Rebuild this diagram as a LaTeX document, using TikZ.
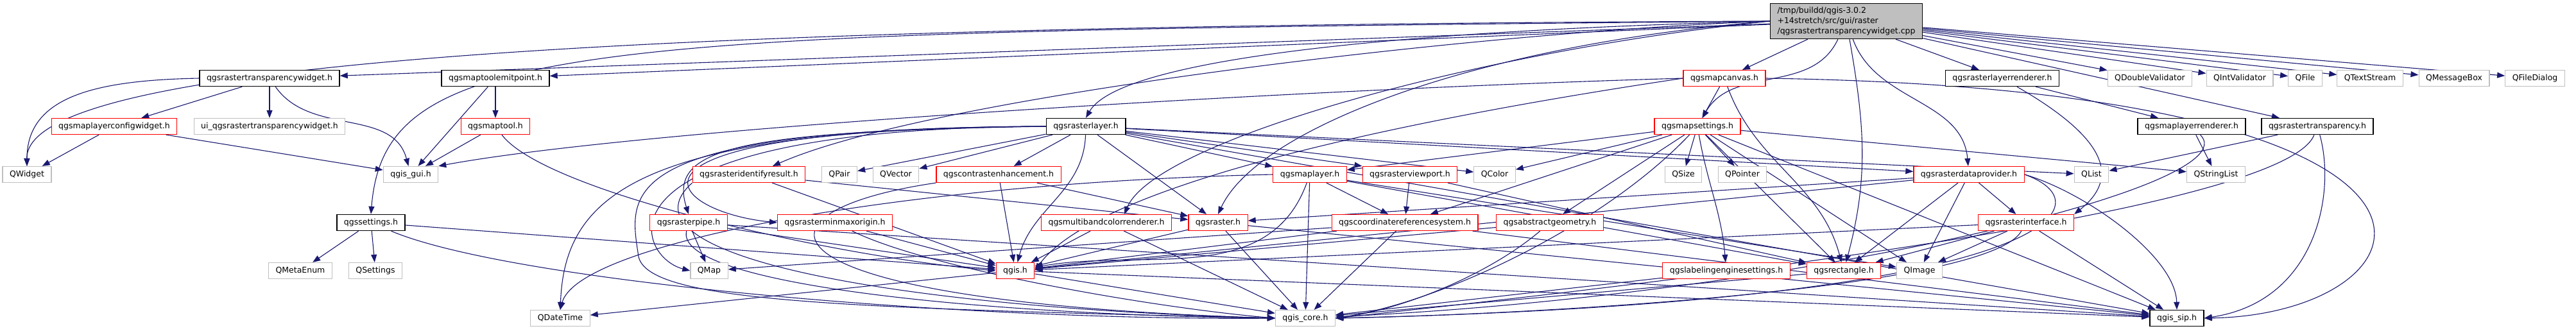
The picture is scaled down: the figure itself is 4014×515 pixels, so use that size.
\documentclass[tikz,border=0pt]{standalone}
\usepackage{fontspec}
\setmainfont{DejaVu Sans}
\usepackage{tikz}
\usetikzlibrary{arrows.meta,backgrounds}
\usepackage{xcolor}
\definecolor{depblue}{RGB}{25,25,112}
\definecolor{trunred}{RGB}{255,0,0}
\definecolor{extgray}{RGB}{191,191,191}

\tikzset{
  file/.style={draw,rectangle,fill=white,minimum height=25pt,inner xsep=11pt,inner ysep=2pt,line width=1.2pt},
  docfile/.style={file,draw=black,line width=1.5pt},
  redfile/.style={file,draw=trunred},
  extfile/.style={file,draw=extgray},
  mainfile/.style={file,draw=black,fill=extgray,line width=1.5pt,align=left,minimum height=55pt},
  dep/.style={->,draw=depblue,line width=1.1pt}
}

\begin{document}
\begin{tikzpicture}[x=1pt,y=-1pt,font=\fontsize{12.5}{16}\selectfont,>={Stealth[length=12pt,width=9pt,inset=0pt]}]
  \useasboundingbox (0,0) rectangle (4014,515);

  % the file itself
  \node[mainfile] (C) at (2877,33) {/tmp/buildd/qgis-3.0.2\\+14stretch/src/gui/raster\\/qgsrastertransparencywidget.cpp};

  % rank 2
  \node[docfile] (tw) at (420,122) {qgsrastertransparencywidget.h};
  \node[docfile] (mtep) at (772,122) {qgsmaptoolemitpoint.h};
  \node[redfile] (mcanvas) at (2687,122) {qgsmapcanvas.h};
  \node[docfile] (rlrend) at (3120,122) {qgsrasterlayerrenderer.h};
  \node[extfile] (qdv) at (3350,122) {QDoubleValidator};
  \node[extfile] (qiv) at (3490,122) {QIntValidator};
  \node[extfile] (qfile) at (3592,122) {QFile};
  \node[extfile] (qts) at (3693,122) {QTextStream};
  \node[extfile] (qmb) at (3824,122) {QMessageBox};
  \node[extfile] (qfd) at (3950,122) {QFileDialog};

  % rank 3
  \node[redfile] (mlcw) at (178,197) {qgsmaplayerconfigwidget.h};
  \node[extfile] (ui) at (420,197) {ui\_qgsrastertransparencywidget.h};
  \node[redfile] (mtool) at (772,197) {qgsmaptool.h};
  \node[docfile] (rlayer) at (1692,197) {qgsrasterlayer.h};
  \node[redfile] (msettings) at (2645,197) {qgsmapsettings.h};
  \node[docfile] (mlrend) at (3415,197) {qgsmaplayerrenderer.h};
  \node[docfile] (rtransp) at (3611,197) {qgsrastertransparency.h};

  % rank 4
  \node[extfile] (qwidget) at (42,272) {QWidget};
  \node[extfile] (guih) at (640,272) {qgis\_gui.h};
  \node[redfile] (rid) at (1167,272) {qgsrasteridentifyresult.h};
  \node[extfile] (qpair) at (1308,272) {QPair};
  \node[extfile] (qvector) at (1396,272) {QVector};
  \node[redfile] (contrast) at (1556,272) {qgscontrastenhancement.h};
  \node[redfile] (mlayer) at (2041,272) {qgsmaplayer.h};
  \node[redfile] (rviewport) at (2197,272) {qgsrasterviewport.h};
  \node[extfile] (qcolor) at (2329,272) {QColor};
  \node[extfile] (qsize) at (2623,272) {QSize};
  \node[extfile] (qpointer) at (2715,272) {QPointer};
  \node[redfile] (rdp) at (3068,272) {qgsrasterdataprovider.h};
  \node[extfile] (qlist) at (3259,272) {QList};
  \node[extfile] (qstringlist) at (3453,272) {QStringList};

  % rank 5
  \node[docfile] (settings) at (578,347) {qgssettings.h};
  \node[redfile] (rpipe) at (1073,347) {qgsrasterpipe.h};
  \node[redfile] (rminmax) at (1301,347) {qgsrasterminmaxorigin.h};
  \node[redfile] (multiband) at (1724,347) {qgsmultibandcolorrenderer.h};
  \node[redfile] (rasterh) at (1898,347) {qgsraster.h};
  \node[redfile] (crs) at (2189,347) {qgscoordinatereferencesystem.h};
  \node[redfile] (absgeom) at (2415,347) {qgsabstractgeometry.h};
  \node[redfile] (rinterface) at (3157,347) {qgsrasterinterface.h};

  % rank 6
  \node[extfile] (qmetaenum) at (468,422) {QMetaEnum};
  \node[extfile] (qsettings) at (585,422) {QSettings};
  \node[extfile] (qmap) at (1105,422) {QMap};
  \node[redfile] (qgish) at (1582,422) {qgis.h};
  \node[redfile] (labeling) at (2690,422) {qgslabelingenginesettings.h};
  \node[redfile] (rect) at (2873,422) {qgsrectangle.h};
  \node[extfile] (qimage) at (2991,422) {QImage};

  % rank 7
  \node[extfile] (qdatetime) at (873,496) {QDateTime};
  \node[extfile] (coreh) at (2034,496) {qgis\_core.h};
  \node[docfile] (siph) at (3392,496) {qgis\_sip.h};

  \begin{scope}[on background layer]
    % includes of the .cpp
    \draw[dep] (C) -- (tw);
    \draw[dep] (C) -- (mtep);
    \draw[dep] (C.west) .. controls (800,40) and (40,110) .. (qwidget.north);
    \draw[dep] (C.west) .. controls (900,50) and (600,60) .. (settings.north);
    \draw[dep] (C.west) .. controls (2100,50) and (1740,100) .. (rlayer.north);
    \draw[dep] (C.west) .. controls (2300,50) and (1450,150) .. ([xshift=37pt]rid.north);
    \draw[dep] (C.west) .. controls (2300,70) and (1960,200) .. (rasterh.north);
    \draw[dep] (C.west) .. controls (2300,80) and (1800,220) .. ([xshift=28pt]multiband.north);
    \draw[dep] (C) -- (mcanvas);
    \draw[dep] (C) to[out=-115,in=60] (msettings);
    \draw[dep] (C) -- (rlrend);
    \draw[dep] (C) -- (qdv);
    \draw[dep] (C) -- (qiv);
    \draw[dep] (C) -- (qfile);
    \draw[dep] (C) -- (qts);
    \draw[dep] (C) -- (qmb);
    \draw[dep] (C) -- (qfd);
    \draw[dep] (C) -- (rtransp);
    \draw[dep] (C) to[out=-70,in=95] (rdp);
    \draw[dep] (C) to[out=-80,in=75] (rect);

    % gui side
    \draw[dep] (tw.west) .. controls (150,125) and (42,150) .. (qwidget.north);
    \draw[dep] (tw) -- (mlcw);
    \draw[dep] (tw) -- (ui);
    \draw[dep] (tw) to[out=-55,in=105] (guih);
    \draw[dep] (mlcw) -- (qwidget);
    \draw[dep] (mlcw) -- (guih);
    \draw[dep] (mtep) -- (mtool);
    \draw[dep] (mtep) -- (guih);
    \draw[dep] (mtool) -- (guih);
    \draw[dep] (mtool) .. controls (850,300) and (1300,400) .. (qgish.west);
    \draw[dep] (mcanvas.west) .. controls (2000,140) and (1000,200) .. (guih.north east);
    \draw[dep] (mcanvas) -- (msettings);
    \draw[dep] (mcanvas.west) .. controls (2100,200) and (1700,300) .. (qgish.east);
    \draw[dep] (mcanvas.east) .. controls (3950,140) and (3800,490) .. (siph.east);
    \draw[dep] (mcanvas) to[out=-70,in=105] (rect);

    % qgsrasterlayer.h
    \draw[dep] (rlayer) -- (contrast);
    \draw[dep] (rlayer) -- (qpair);
    \draw[dep] (rlayer) -- (qvector);
    \draw[dep] (rlayer) to[out=-92,in=75] (qgish);
    \draw[dep] (rlayer) -- (rasterh);
    \draw[dep] (rlayer) -- (mlayer);
    \draw[dep] (rlayer) -- (rviewport.north west);
    \draw[dep] (rlayer) -- (qcolor);
    \draw[dep] (rlayer) -- (rdp);
    \draw[dep] (rlayer) -- (qlist);
    \draw[dep] (rlayer) -- (siph);
    \draw[dep] (rlayer.west) .. controls (1150,205) and (1040,230) .. (rpipe.north);
    \draw[dep] (rlayer.west) .. controls (900,200) and (1040,330) .. (rminmax.west);
    \draw[dep] (rlayer.west) .. controls (900,200) and (990,400) .. (qmap.west);
    \draw[dep] (rlayer.west) .. controls (1000,200) and (880,300) .. (qdatetime.north);
    \draw[dep] (rlayer.west) .. controls (950,200) and (980,300) .. (995,400)
      .. controls (1010,470) and (1300,480) .. (coreh.west);

    % qgsmaplayer.h, qgsrasterviewport.h
    \draw[dep] (mlayer) -- (crs);
    \draw[dep] (mlayer) -- (coreh);
    \draw[dep] (mlayer) to[out=-110,in=10] (qgish);
    \draw[dep] (mlayer.west) .. controls (1400,285) and (900,380) .. (qdatetime.north);
    \draw[dep] (mlayer) -- (rect);
    \draw[dep] (mlayer) -- (qimage);
    \draw[dep] (rviewport) -- (crs);
    \draw[dep] (rviewport) -- (rect);

    % qgsmapsettings.h
    \draw[dep] (msettings) -- (qcolor);
    \draw[dep] (msettings) -- (qsize);
    \draw[dep] (msettings) -- (qpointer);
    \draw[dep] (msettings) -- (mlayer);
    \draw[dep] (msettings) -- (crs);
    \draw[dep] (msettings) -- (absgeom);
    \draw[dep] (msettings) .. controls (2500,350) and (2250,470) .. (coreh.east);
    \draw[dep] (msettings) to[out=-80,in=95] (labeling);
    \draw[dep] (msettings) -- (rect);
    \draw[dep] (msettings) -- (qimage);
    \draw[dep] (msettings) -- (qstringlist);
    \draw[dep] (msettings) -- (siph);

    % data provider and interface
    \draw[dep] (rdp) -- (rinterface);
    \draw[dep] (rdp) -- (qimage);
    \draw[dep] (rdp) -- (rect);
    \draw[dep] (rdp) -- (rasterh);
    \draw[dep] (rdp) -- (qgish);
    \draw[dep] (rdp.east) .. controls (3250,300) and (3390,400) .. (siph.north);
    \draw[dep] (rdp.east) .. controls (3290,320) and (3200,470) .. (coreh.east);
    \draw[dep] (rinterface) -- (qimage);
    \draw[dep] (rinterface) -- (rect);
    \draw[dep] (rinterface) .. controls (3100,450) and (2400,490) .. (coreh.east);
    \draw[dep] (rinterface) -- (siph);
    \draw[dep] (rinterface) -- (qgish);

    % renderers and transparency
    \draw[dep] (rtransp) -- (qlist);
    \draw[dep] (rtransp) .. controls (3560,330) and (2600,440) .. (coreh.east);
    \draw[dep] (rtransp) .. controls (3640,300) and (3610,470) .. (siph.east);
    \draw[dep] (mlrend) -- (qstringlist);
    \draw[dep] (mlrend) .. controls (3510,290) and (2800,460) .. (coreh);
    \draw[dep] (rlrend) -- (mlrend);
    \draw[dep] (rlrend) .. controls (3290,220) and (3300,280) .. (rinterface.north east);

    % settings
    \draw[dep] (settings) -- (qmetaenum);
    \draw[dep] (settings) -- (qsettings);
    \draw[dep] (settings) .. controls (800,440) and (1500,500) .. (coreh.west);
    \draw[dep] (settings) -- (qgish);

    % core headers
    \draw[dep] (crs) -- (coreh);
    \draw[dep] (crs) -- (qmap);
    \draw[dep] (crs) -- (qgish);
    \draw[dep] (crs) -- (siph);
    \draw[dep] (absgeom) .. controls (2330,420) and (2200,480) .. (coreh.east);
    \draw[dep] (absgeom) -- (qgish);
    \draw[dep] (labeling) -- (coreh);
    \draw[dep] (rect) -- (coreh);
    \draw[dep] (qgish) -- (qdatetime);
    \draw[dep] (qgish) -- (coreh);
    \draw[dep] (qgish) -- (siph);
    \draw[dep] (rasterh) -- (qgish);
    \draw[dep] (rasterh) -- (coreh);
    \draw[dep] (rasterh) -- (siph);
    \draw[dep] (multiband) -- (qgish);
    \draw[dep] (multiband) -- (coreh);
    \draw[dep] (rminmax) -- (qgish);
    \draw[dep] (rminmax) .. controls (1450,420) and (1800,480) .. (coreh.west);
    \draw[dep] (rpipe) -- (qmap);
    \draw[dep] (rpipe) -- (qgish);
    \draw[dep] (rpipe) .. controls (1050,440) and (1500,490) .. (coreh.west);
    \draw[dep] (rpipe) -- (siph);
    \draw[dep] (rid) -- (qgish);
    \draw[dep] (rid) -- (rasterh);
    \draw[dep] (rid.south west) .. controls (950,400) and (1400,480) .. (coreh.west);
    \draw[dep] (contrast) -- (qgish);
    \draw[dep] (contrast) -- (rasterh);
    \draw[dep] (contrast.south west) .. controls (1150,330) and (1150,470) .. (coreh.west);
  \end{scope}
\end{tikzpicture}
\end{document}
